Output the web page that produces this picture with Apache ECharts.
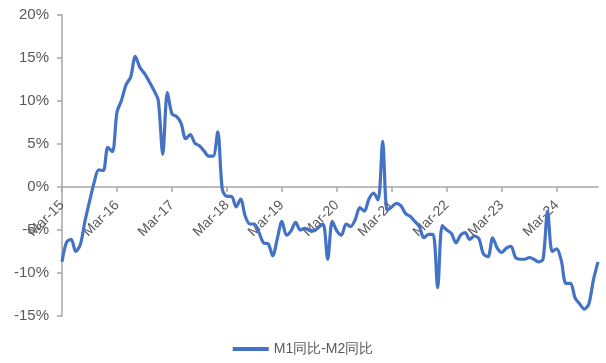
<!DOCTYPE html>
<html>
<head>
<meta charset="utf-8">
<script src="https://cdn.jsdelivr.net/npm/echarts@6/dist/echarts.min.js"></script>
<style>
  html, body { margin: 0; padding: 0; background: #fff; }
  #chart { width: 606px; height: 363px; }
</style>
</head>
<body>
<div id="chart"></div>
<script>
// M1同比 - M2同比, 月度, 2015-03 ~ 2024-12
const startYear = 2015
const startMonth = 2 // Mar
const monthNames = ['Jan', 'Feb', 'Mar', 'Apr', 'May', 'Jun', 'Jul', 'Aug', 'Sep', 'Oct', 'Nov', 'Dec']

const diff2015 = [-8.7, -6.4, -6.1, -7.5, -6.7, -4.0, -1.7, 0.5, 2.0, 1.9]
const diff2016 = [4.6, 4.1, 8.7, 10.1, 11.9, 12.8, 15.2, 13.9, 13.2, 12.3, 11.3, 10.1]
const diff2017 = [3.8, 11.0, 8.5, 8.2, 7.4, 5.6, 6.1, 5.1, 4.8, 4.2, 3.6, 3.6]
const diff2018 = [6.4, -0.3, -1.1, -1.1, -2.3, -1.4, -3.4, -4.3, -4.3, -5.3, -6.5, -6.6]
const diff2019 = [-8.0, -6.0, -4.0, -5.6, -5.1, -4.1, -5.0, -4.8, -5.0, -5.1, -4.7, -4.3]
const diff2020 = [-8.4, -4.0, -5.1, -5.6, -4.3, -4.6, -3.8, -2.4, -2.8, -1.4, -0.7, -1.5]
const diff2021 = [5.3, -2.7, -2.3, -1.9, -2.2, -3.1, -3.4, -4.0, -4.6, -5.9, -5.5, -5.5]
const diff2022 = [-11.7, -4.5, -5.0, -5.4, -6.5, -5.6, -5.3, -6.1, -5.7, -6.0, -7.8, -8.1]
const diff2023 = [-5.9, -7.1, -7.6, -7.1, -6.9, -8.2, -8.4, -8.4, -8.2, -8.4, -8.7, -8.4]
const diff2024 = [-2.8, -7.5, -7.2, -8.6, -11.2, -11.2, -12.9, -13.6, -14.2, -13.6, -10.8, -8.7]

const values = [].concat(diff2015, diff2016, diff2017, diff2018, diff2019,
  diff2020, diff2021, diff2022, diff2023, diff2024)

const months = values.map((v, i) => {
  const m = startMonth + i
  const y = startYear + Math.floor(m / 12)
  return monthNames[m % 12] + '-' + String(y).slice(2)
})

const yTicks = { min: -15, max: 20, step: 5 }

const textColor = '#595959'
const axisColor = '#A6A6A6'
const lineColor = '#4472C4'

const gridTop = 15
const gridBottom = 47
const plotHeight = 363 - gridTop - gridBottom
// 把x轴整体挪到0%那条线上
const zeroOffset = -(plotHeight * (0 - yTicks.min) / (yTicks.max - yTicks.min))

const chart = echarts.init(document.getElementById('chart'))
chart.setOption({
  animation: false,
  textStyle: { fontFamily: 'Liberation Sans, Arial, sans-serif' },
  grid: { left: 62, right: 8, top: gridTop, bottom: gridBottom, containLabel: false },
  legend: {
    bottom: 2,
    left: 'center',
    icon: 'rect',
    itemWidth: 36,
    itemHeight: 4,
    itemGap: 10,
    textStyle: { color: textColor, fontSize: 14 },
    data: ['M1同比-M2同比']
  },
  xAxis: {
    type: 'category',
    data: months,
    boundaryGap: false,
    offset: zeroOffset,
    axisLine: { onZero: false, lineStyle: { color: axisColor, width: 1.5 } },
    axisTick: { show: true, interval: 11, length: 5, lineStyle: { color: axisColor, width: 1.5 } },
    axisLabel: { interval: 11, rotate: 45, color: textColor, fontSize: 14, margin: 16 },
    splitLine: { show: false }
  },
  yAxis: {
    type: 'value',
    min: yTicks.min,
    max: yTicks.max,
    interval: yTicks.step,
    axisLine: { show: true, lineStyle: { color: axisColor, width: 1.5 } },
    axisTick: { show: true, length: 5, lineStyle: { color: axisColor, width: 1.5 } },
    axisLabel: { formatter: '{value}%', color: textColor, fontSize: 15, margin: 13 },
    splitLine: { show: false }
  },
  series: [
    {
      name: 'M1同比-M2同比',
      type: 'line',
      data: values,
      smooth: 0.3,
      showSymbol: false,
      symbol: 'none',
      lineStyle: { color: lineColor, width: 3.2 },
      itemStyle: { color: lineColor }
    }
  ]
})
</script>
</body>
</html>
